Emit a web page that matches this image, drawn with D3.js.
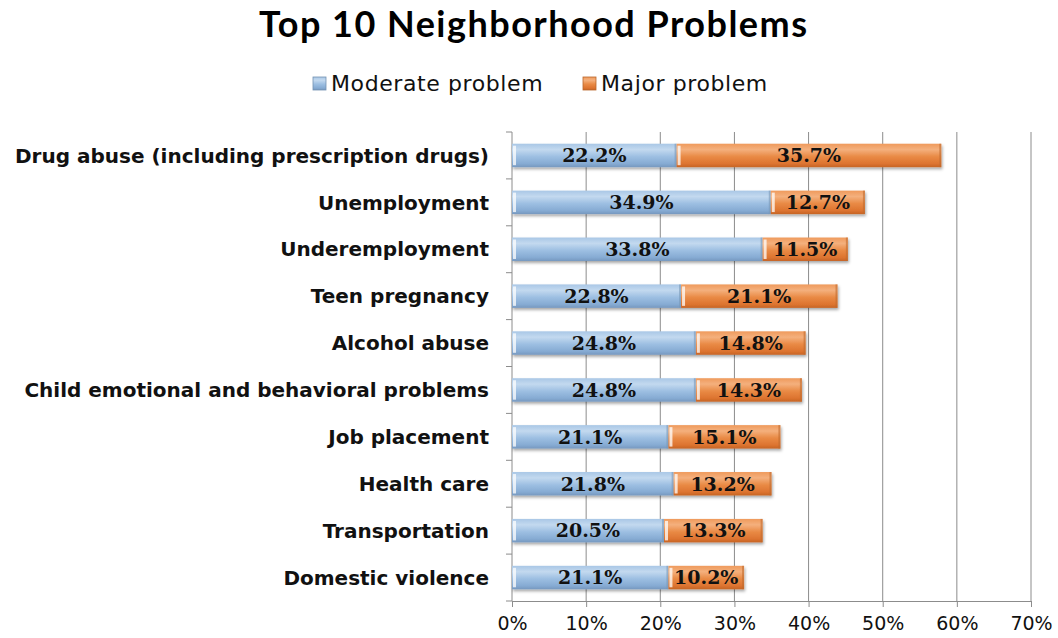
<!DOCTYPE html>
<html>
<head>
<meta charset="utf-8">
<script src="https://cdn.jsdelivr.net/npm/d3@7"></script>
<style>
  body { margin: 0; background: #fff; }
  svg { display: block; font-family: Lato, "Open Sans", sans-serif; }
</style>
</head>
<body>
<svg id="chart" width="1058" height="638"></svg>
<script>
// Survey results: share of respondents rating each issue as a problem
const categories = [
  "Drug abuse (including prescription drugs)",
  "Unemployment",
  "Underemployment",
  "Teen pregnancy",
  "Alcohol abuse",
  "Child emotional and behavioral problems",
  "Job placement",
  "Health care",
  "Transportation",
  "Domestic violence"
];
const moderate = [22.2, 34.9, 33.8, 22.8, 24.8, 24.8, 21.1, 21.8, 20.5, 21.1];
const major    = [35.7, 12.7, 11.5, 21.1, 14.8, 14.3, 15.1, 13.2, 13.3, 10.2];
const seriesNames = ["Moderate problem", "Major problem"];
const xTicks = [0, 10, 20, 30, 40, 50, 60, 70];

const svg = d3.select("#chart");
const W = 1058, H = 638;
const margin = { left: 512, right: 27, top: 132, bottom: 37 };

const x = d3.scaleLinear().domain([0, 70]).range([margin.left, W - margin.right]);
const y = d3.scaleBand().domain(categories).range([margin.top, H - margin.bottom]).paddingInner(0.5).paddingOuter(0.25);

const colors = ["#8fb5dc", "#e67f37"];
const defs = svg.append("defs");

// Glossy vertical gradients for each series
const grads = [
  ["gBlue", ["#a9c7e6", "#c3d9ef", "#9dbfe2", "#86abd3", "#7698bf"]],
  ["gOrange", ["#ef9a5c", "#f4b07d", "#e98a45", "#dd7430", "#c66425"]]
];
grads.forEach(([id, stops]) => {
  const g = defs.append("linearGradient").attr("id", id).attr("x1", 0).attr("y1", 0).attr("x2", 0).attr("y2", 1);
  const offs = [0, 0.25, 0.55, 0.85, 1];
  stops.forEach((c, i) => g.append("stop").attr("offset", offs[i]).attr("stop-color", c));
});
const shadow = defs.append("filter").attr("id", "shadow").attr("x", "-5%").attr("y", "-30%").attr("width", "110%").attr("height", "180%");
shadow.append("feDropShadow").attr("dx", 1).attr("dy", 2).attr("stdDeviation", 1.5).attr("flood-color", "#000").attr("flood-opacity", 0.35);

// Title
svg.append("text")
  .attr("x", 533).attr("y", 37)
  .attr("text-anchor", "middle")
  .attr("font-size", 36).attr("font-weight", 700)
  .attr("textLength", 548)
  .attr("fill", "#000")
  .text("Top 10 Neighborhood Problems");

// Legend
const legend = svg.append("g").attr("transform", "translate(0,84)");
const legendX = [313, 583];
seriesNames.forEach((name, i) => {
  legend.append("rect").attr("x", legendX[i]).attr("y", -7).attr("width", 13).attr("height", 13)
    .attr("fill", `url(#${grads[i][0]})`).attr("stroke", d3.color(colors[i]).darker(0.6)).attr("stroke-width", 0.8);
  legend.append("text").attr("x", legendX[i] + 18).attr("y", 7)
    .attr("font-size", 22).attr("letter-spacing", 0.6).attr("fill", "#111")
    .attr("font-family", "'DejaVu Sans', sans-serif")
    .text(name);
});

// Vertical gridlines
svg.append("g").selectAll("line").data(xTicks.slice(1)).join("line")
  .attr("x1", d => x(d)).attr("x2", d => x(d))
  .attr("y1", margin.top).attr("y2", H - margin.bottom)
  .attr("stroke", "#8c8c8c").attr("stroke-width", 1);

// Bottom axis
const xAxis = svg.append("g").attr("transform", `translate(0,${H - margin.bottom})`)
  .call(d3.axisBottom(x).tickValues(xTicks).tickFormat(d => d + "%").tickSize(6).tickSizeOuter(0));
xAxis.select(".domain").attr("stroke", "#8c8c8c");
xAxis.selectAll(".tick line").attr("stroke", "#8c8c8c");
xAxis.selectAll("text").attr("font-size", 19).attr("fill", "#111")
  .attr("font-family", "'DejaVu Sans', sans-serif").attr("dy", "1.05em");

// Left axis line with ticks at band boundaries
const step = y.step();
const boundaries = d3.range(categories.length + 1).map(i => margin.top + i * step);
svg.append("line").attr("x1", x(0)).attr("x2", x(0)).attr("y1", margin.top).attr("y2", H - margin.bottom).attr("stroke", "#8c8c8c");
svg.append("g").selectAll("line").data(boundaries).join("line")
  .attr("x1", x(0) - 6).attr("x2", x(0)).attr("y1", d => d).attr("y2", d => d).attr("stroke", "#8c8c8c");

// Category labels
svg.append("g").selectAll("text").data(categories).join("text")
  .attr("x", 489).attr("y", d => y(d) + y.bandwidth() / 2)
  .attr("dy", "0.36em").attr("text-anchor", "end")
  .attr("font-size", 20).attr("font-weight", 700).attr("fill", "#111")
  .attr("font-family", "'DejaVu Sans', sans-serif")
  .text(d => d);

// Stacked bars
const rows = categories.map((c, i) => ({ cat: c, vals: [moderate[i], major[i]] }));
const barG = svg.append("g");
rows.forEach(r => {
  let acc = 0;
  const g = barG.append("g").attr("filter", "url(#shadow)");
  r.vals.forEach((v, s) => {
    const x0 = x(acc), x1 = x(acc + v);
    acc += v;
    const yy = y(r.cat), h = y.bandwidth();
    g.append("rect").attr("x", x0).attr("y", yy).attr("width", x1 - x0).attr("height", h)
      .attr("fill", `url(#${grads[s][0]})`);
    // light highlight strip at the start of each segment
    g.append("rect").attr("x", x0 + 1).attr("y", yy + 2).attr("width", 3).attr("height", h - 4)
      .attr("fill", "#ffffff").attr("opacity", 0.75);
    g.append("rect").attr("x", x1 - 2).attr("y", yy).attr("width", 2).attr("height", h)
      .attr("fill", d3.color(colors[s]).darker(0.5)).attr("opacity", 0.6);
  });
});

// Value labels
rows.forEach(r => {
  let acc = 0;
  r.vals.forEach(v => {
    const cx = x(acc + v / 2);
    acc += v;
    svg.append("text").attr("x", cx).attr("y", y(r.cat) + y.bandwidth() / 2)
      .attr("dy", "0.36em").attr("text-anchor", "middle")
      .attr("font-size", 19).attr("font-weight", 700).attr("fill", "#111")
      .attr("font-family", "'DejaVu Serif', serif")
      .text(v.toFixed(1) + "%");
  });
});
</script>
</body>
</html>
